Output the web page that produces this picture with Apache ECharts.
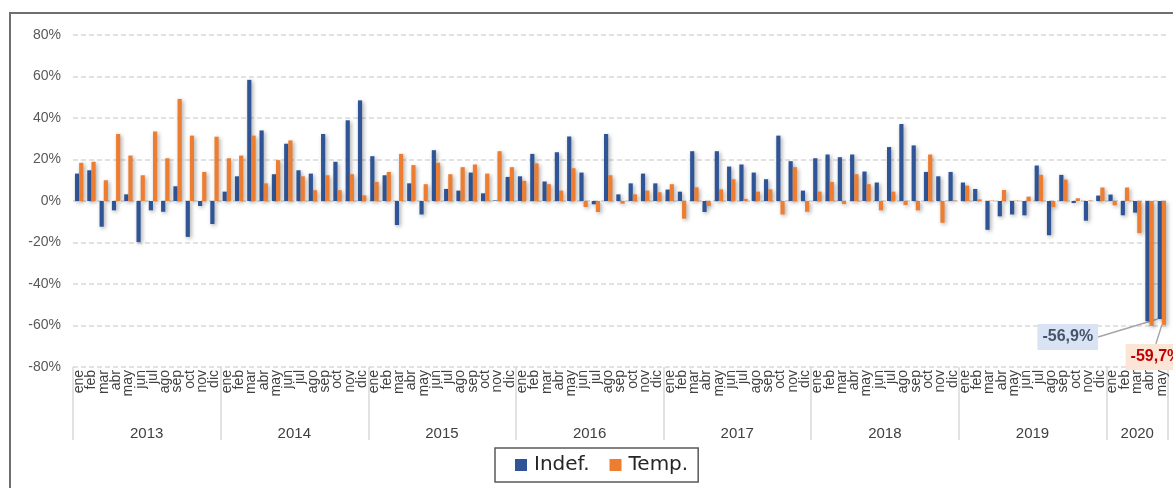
<!DOCTYPE html>
<html>
<head>
<meta charset="utf-8">
<script src="https://cdn.jsdelivr.net/npm/echarts@6/dist/echarts.min.js"></script>
<style>
  html, body { margin: 0; padding: 0; background: #fff; }
  #frame { position: absolute; left: 9px; top: 12px; width: 1300px; height: 600px;
           border-left: 2px solid #6f6f6f; border-top: 2px solid #6f6f6f; }
  #container { position: absolute; left: 0; top: 0; width: 1173px; height: 488px; }
</style>
</head>
<body>
<div id="frame"></div>
<div id="container"></div>
<script>
// meses y años del eje
var months = ['ene','feb','mar','abr','may','jun','jul','ago','sep','oct','nov','dic'];
var years = ['2013','2014','2015','2016','2017','2018','2019','2020'];
var monthsInYear = [12,12,12,12,12,12,12,5];

// variación interanual (%) contratos indefinidos
var indef = [
  13.2, 14.8, -12.4, -4.5, 3.2, -19.8, -4.5, -5.2, 7.1, -17.3, -2.4, -11.1,
  4.5, 11.9, 58.4, 34.0, 12.9, 27.6, 14.8, 13.2, 32.3, 18.9, 38.9, 48.5,
  21.6, 12.4, -11.6, 8.5, -6.5, 24.5, 5.8, 5.0, 13.7, 3.7, 0.3, 11.6,
  11.9, 22.7, 9.4, 23.5, 31.1, 13.7, -1.6, 32.3, 3.2, 8.5, 13.2, 8.5,
  5.5, 4.5, 24.0, -5.3, 24.0, 16.6, 17.6, 13.7, 10.5, 31.5, 19.2, 5.0,
  20.6, 22.4, 21.1, 22.4, 14.2, 8.9, 26.0, 37.1, 26.8, 14.0, 11.9, 14.0,
  8.9, 5.8, -13.9, -7.4, -6.5, -6.9, 17.1, -16.5, 12.6, -1.0, -9.5, 2.6,
  3.1, -6.9, -5.6, -57.9, -56.9
];

// variación interanual (%) contratos temporales
var temp = [
  18.4, 18.9, 10.0, 32.3, 21.9, 12.4, 33.5, 20.6, 49.2, 31.5, 14.0, 31.0,
  20.6, 21.9, 31.5, 8.5, 19.7, 29.2, 11.9, 5.2, 12.4, 5.2, 12.9, 2.7,
  9.2, 14.0, 22.7, 17.3, 8.1, 18.4, 12.9, 16.3, 17.6, 13.2, 24.0, 16.3,
  9.7, 18.1, 8.1, 5.0, 15.8, -2.9, -5.3, 12.4, -1.3, 3.2, 5.0, 4.2,
  8.1, -8.5, 6.6, -2.4, 5.6, 10.5, 1.0, 4.5, 5.6, -6.5, 16.3, -5.2,
  4.5, 9.2, -1.5, 12.9, 8.1, -4.5, 4.5, -1.9, -4.5, 22.4, -10.5, 0.2,
  7.4, 0.8, 0.2, 5.3, 0.2, 2.1, 12.6, -2.9, 10.3, 1.3, 0.2, 6.5,
  -2.1, 6.5, -15.5, -60.2, -59.7
];

var yTicks = [-80, 80, 20]; // min, max, paso

// categorias: mes por mes y año correspondiente
var monthCats = [], yearCats = [], yearStart = {}, yearMid = {};
var k = 0;
for (var y = 0; y < years.length; y++) {
  yearStart[k] = true;
  yearMid[k + Math.floor((monthsInYear[y] - 1) / 2)] = (monthsInYear[y] % 2 === 0);
  for (var m = 0; m < monthsInYear[y]; m++) {
    monthCats.push(months[m]);
    yearCats.push(years[y]);
    k++;
  }
}
var last = monthCats.length - 1;

var shadow = { shadowBlur: 4, shadowColor: 'rgba(0,0,0,0.35)', shadowOffsetX: 1.5, shadowOffsetY: 1.5 };

function barData(arr, labelStyle) {
  return arr.map(function (v, i) {
    if (i !== last) return v;
    return { value: v, label: labelStyle };
  });
}

var dom = document.getElementById('container');
var myChart = echarts.init(dom, null, { renderer: 'canvas' });

var option = {
  animation: false,
  grid: { left: 73, right: 5, top: 35, bottom: 121, containLabel: false },
  legend: {
    data: ['Indef.', 'Temp.'],
    left: 495, top: 448,
    icon: 'rect', itemWidth: 12, itemHeight: 12, itemGap: 20,
    padding: [7, 10, 7, 20],
    borderColor: '#595959', borderWidth: 1.5,
    textStyle: { fontFamily: 'DejaVu Sans', fontSize: 20, color: '#262626', padding: [0, 0, 0, 2] }
  },
  xAxis: [{
    type: 'category',
    data: monthCats,
    position: 'bottom',
    axisLine: { show: false },
    axisTick: { show: false },
    axisLabel: {
      interval: 0, rotate: 90, margin: 3,
      fontFamily: 'Liberation Sans Narrow, Liberation Sans', fontSize: 14, color: '#404040'
    }
  }, {
    type: 'category',
    data: yearCats,
    position: 'bottom',
    axisLine: { show: false },
    axisTick: {
      show: true, length: 73,
      interval: function (i) { return !!yearStart[i]; },
      lineStyle: { color: '#d9d9d9', width: 1.5 }
    },
    axisLabel: {
      margin: 59,
      interval: function (i) { return yearMid.hasOwnProperty(i); },
      formatter: function (v, i) { return yearMid[i] ? '{r|' + v + '}' : '{c|' + v + '}'; },
      rich: {
        r: { padding: [0, 0, 0, 12], fontFamily: 'Liberation Sans', fontSize: 15, color: '#404040' },
        c: { fontFamily: 'Liberation Sans', fontSize: 15, color: '#404040' }
      }
    }
  }],
  yAxis: {
    type: 'value',
    min: yTicks[0], max: yTicks[1], interval: yTicks[2],
    axisLine: { show: false },
    axisTick: { show: false },
    axisLabel: {
      formatter: '{value}%', margin: 12,
      fontFamily: 'Liberation Sans', fontSize: 14, color: '#595959'
    },
    splitLine: { lineStyle: { color: '#d9d9d9', width: 1.5, type: [5, 3] } }
  },
  series: [{
    name: 'Indef.',
    type: 'bar',
    barGap: '0%',
    barCategoryGap: '32%',
    itemStyle: Object.assign({ color: '#2f5597' }, shadow),
    data: barData(indef, {
      show: true, position: 'bottom', formatter: '-56,9%',
      backgroundColor: '#dae3f3', color: '#44546a', fontWeight: 'bold',
      fontFamily: 'Liberation Sans', fontSize: 16, padding: [5, 5]
    }),
    labelLine: { show: true, lineStyle: { color: '#a6a6a6', width: 1.5 } },
    labelLayout: function (p) {
      return p.dataIndex === last ? { dx: -92, dy: 0 } : {};
    }
  }, {
    name: 'Temp.',
    type: 'bar',
    itemStyle: Object.assign({ color: '#ed7d31' }, shadow),
    data: barData(temp, {
      show: true, position: 'bottom', formatter: '-59,7%',
      backgroundColor: '#fbe5d6', color: '#c00000', fontWeight: 'bold',
      fontFamily: 'Liberation Sans', fontSize: 16, padding: [5, 5]
    }),
    labelLine: { show: true, lineStyle: { color: '#a6a6a6', width: 1.5 } },
    labelLayout: function (p) {
      return p.dataIndex === last ? { dx: -8, dy: 14 } : {};
    }
  }]
};

if (option && typeof option === 'object') {
  myChart.setOption(option, true);
}
</script>
</body>
</html>
